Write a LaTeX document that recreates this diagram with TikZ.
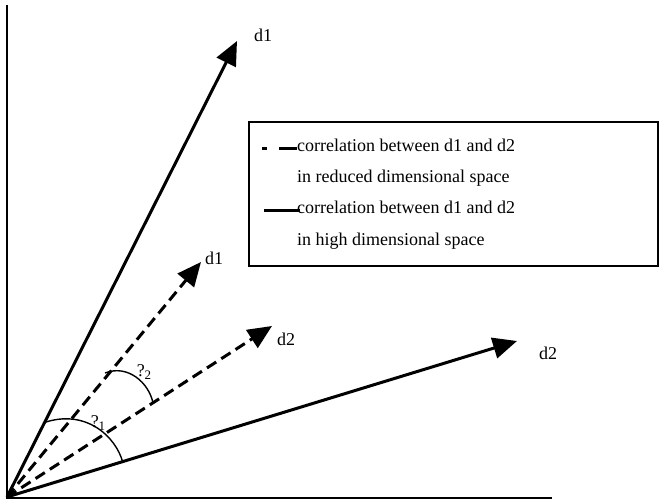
\documentclass[tikz,border=0pt]{standalone}
\usepackage{fontspec}
\setmainfont{Liberation Serif}
\usetikzlibrary{arrows.meta}
\tikzset{
  vec/.style={line width=3pt,-{Triangle[length=24pt,width=21pt]}},
  dvec/.style={vec,dash pattern=on 11pt off 6pt},
  axis/.style={line width=2pt},
  arcline/.style={line width=1.4pt},
  lbl/.style={font=\fontsize{18}{20}\selectfont,inner sep=0pt},
  legtext/.style={font=\fontsize{18}{20}\selectfont,inner sep=0pt,anchor=base west},
}
\begin{document}
\begin{tikzpicture}[x=1pt,y=-1pt]
\useasboundingbox (0,0) rectangle (665,502);
% axes
\coordinate (O) at (7,497);
\coordinate (ytop) at (7,5);
\coordinate (xend) at (552,498);
\draw[axis] (ytop) -- (7,498) -- (xend);
% vector tips
\coordinate (D1h) at (237,41);
\coordinate (D2h) at (517,341);
\coordinate (D1r) at (201,262);
\coordinate (D2r) at (272,326);
\draw[vec] (O) -- (D1h);
\draw[vec] (O) -- (D2h);
\draw[dvec] (O) -- (D1r);
\draw[dvec] (O) -- (D2r);
% labels
\node[lbl] (l1h) at (263,35) {d1};
\node[lbl] (l2h) at (548,353) {d2};
\node[lbl] (l1r) at (214,258) {d1};
\node[lbl] (l2r) at (286,339) {d2};
% angle arcs
\coordinate (a1s) at (43,423);
\coordinate (a1e) at (123,463);
\draw[arcline] (a1s) .. controls (85,408) and (116,436) .. (a1e);
\coordinate (a2s) at (105,373);
\coordinate (a2e) at (153,403);
\draw[arcline] (a2s) .. controls (128,364) and (149,383) .. (a2e);
\node[lbl] (t1) at (98,423) {?\raisebox{-0.35ex}{\fontsize{13}{14}\selectfont 1}};
\node[lbl] (t2) at (144,372) {?\raisebox{-0.35ex}{\fontsize{13}{14}\selectfont 2}};
% legend
\node[draw,line width=1.4pt,minimum width=409pt,minimum height=144pt,inner sep=0pt] (leg) at (453.5,194) {};
\coordinate (ds1) at (262,149);
\coordinate (ds2) at (297,149);
\draw[line width=3pt,dash pattern=on 5pt off 12pt on 18pt] (ds1) -- (ds2);
\coordinate (ss1) at (264,211);
\coordinate (ss2) at (300,211);
\draw[line width=3pt] (ss1) -- (ss2);
\node[legtext] (lt1) at (297,152) {correlation between d1 and d2};
\node[legtext] (lt2) at (297,183) {in reduced dimensional space};
\node[legtext] (lt3) at (297,214) {correlation between d1 and d2};
\node[legtext] (lt4) at (297,246) {in high dimensional space};
\end{tikzpicture}
\end{document}
